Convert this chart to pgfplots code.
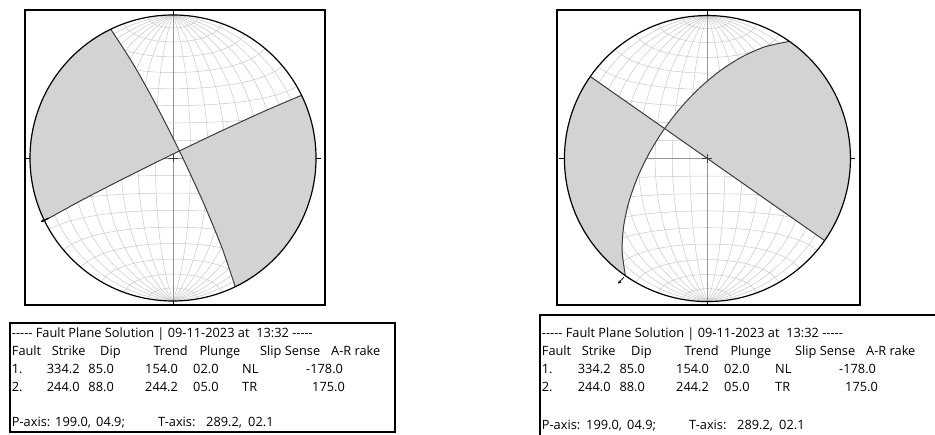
\documentclass[border=0pt]{standalone}
\usepackage{pgfplots}
\pgfplotsset{compat=1.18}
\usetikzlibrary{arrows.meta}
\usepackage{fontspec}
\setmainfont{Open Sans}
\definecolor{fillg}{RGB}{211,211,211}
\definecolor{gridg}{RGB}{200,200,200}
\definecolor{centg}{RGB}{150,150,150}
\definecolor{planec}{RGB}{60,60,60}
\newcommand\dashes{-{}-{}-{}-{}-}
\newcommand\T[3]{\node[anchor=base west,inner sep=0pt] at (#1,#2) {#3};}
\pgfplotsset{
  netaxis/.style={
    x=143bp, y=143bp, anchor=south west,
    axis lines=box, xtick=\empty, ytick=\empty,
    axis line style={line width=1.6bp, black},
    no markers, clip=true
  }
}
\newcommand\netgrid{%
  \pgfplotsinvokeforeach{-80,-70,...,80}{%
    \addplot[gridg, line width=0.5bp, domain=-90:90, samples=37, variable=\t, smooth]
      ({cos(\t)*sin(##1)/sqrt(1+cos(\t)*cos(##1))}, {sin(\t)/sqrt(1+cos(\t)*cos(##1))});
    \addplot[gridg, line width=0.5bp, domain=-90:90, samples=37, variable=\t, smooth]
      ({cos(##1)*sin(\t)/sqrt(1+cos(##1)*cos(\t))}, {sin(##1)/sqrt(1+cos(##1)*cos(\t))});
  }%
  \addplot[centg, line width=0.6bp] coordinates {(0,-1) (0,1)};
  \addplot[centg, line width=0.6bp] coordinates {(-1,0) (1,0)};
  \addplot[black, line width=0.7bp] coordinates {(0,1) (0,1.05)};
  \addplot[black, line width=0.7bp] coordinates {(0,-1) (0,-1.05)};
  \addplot[black, line width=0.7bp] coordinates {(-1,0) (-1.035,0)};
  \addplot[black, line width=0.7bp] coordinates {(1,0) (1.035,0)};
}
\newcommand\netfinish{%
  \addplot[black!75, line width=0.7bp] coordinates {(-0.035,0) (0.035,0)};
  \addplot[black!75, line width=0.7bp] coordinates {(0,-0.03) (0,0.03)};
  \draw[black, line width=1.2bp] (axis cs:0,0) circle[radius=143bp];
}
\begin{document}
\begin{tikzpicture}[x=1bp,y=1bp,every node/.style={font=\fontsize{12.8bp}{14bp}\selectfont}]
\useasboundingbox (0,0) rectangle (935,435);
% ---------------- left net ----------------
\begin{axis}[netaxis, at={(25bp,130bp)}, xmin=-1.035, xmax=1.063, ymin=-1.028, ymax=1.035]
\netgrid
\addplot[fill=fillg, draw=none] coordinates {(0.0447,0.0492) (-0.0108,0.0222) (-0.3388,-0.1406) (-0.6419,-0.2972) (-0.8988,-0.4384) (-0.9397,-0.3420) (-0.9848,-0.1736) (-1,0) (-0.9848,0.1736) (-0.9397,0.3420) (-0.8660,0.5) (-0.7660,0.6428) (-0.6428,0.7660) (-0.5,0.8660) (-0.4352,0.9003) (-0.2759,0.6525) (-0.1096,0.3539)};
\addplot[fill=fillg, draw=none] coordinates {(0.0447,0.0492) (0.0555,0.0268) (0.2093,-0.3058) (0.3400,-0.6215) (0.4352,-0.9003) (0.5,-0.8660) (0.6428,-0.7660) (0.7660,-0.6428) (0.8660,-0.5) (0.9397,-0.3420) (0.9848,-0.1736) (1,0) (0.9848,0.1736) (0.9397,0.3420) (0.8988,0.4384) (0.6293,0.3229) (0.3193,0.1804)};
\addplot[planec, line width=1bp, smooth] coordinates {(-0.4352,0.9003) (-0.2759,0.6525) (-0.1096,0.3539) (0.0555,0.0268) (0.2093,-0.3058) (0.3400,-0.6215) (0.4352,-0.9003)};
\addplot[planec, line width=1bp, smooth] coordinates {(-0.8988,-0.4384) (-0.6419,-0.2972) (-0.3388,-0.1406) (-0.0108,0.0222) (0.3193,0.1804) (0.6293,0.3229) (0.8988,0.4384)};
\addplot[black, line width=1.2bp, -{Stealth[length=3bp,width=3bp]}] coordinates {(-0.87,-0.42) (-0.925,-0.447)};
\netfinish
\end{axis}
% ---------------- right net ----------------
\begin{axis}[netaxis, at={(557bp,130bp)}, xmin=-1.052, xmax=1.066, ymin=-1.024, ymax=1.038]
\netgrid
\addplot[fill=fillg, draw=none] coordinates {(-0.2999,0.2100) (-0.1824,0.3608) (-0.0513,0.4974) (0.0913,0.6159) (0.2438,0.7124) (0.4049,0.7823) (0.5736,0.8192) (0.6428,0.7660) (0.7660,0.6428) (0.8660,0.5) (0.9397,0.3420) (0.9848,0.1736) (1,0) (0.9848,-0.1736) (0.9397,-0.3420) (0.8660,-0.5) (0.8192,-0.5736)};
\addplot[fill=fillg, draw=none] coordinates {(-0.2999,0.2100) (-0.8192,0.5736) (-0.8660,0.5) (-0.9397,0.3420) (-0.9848,0.1736) (-1,0) (-0.9848,-0.1736) (-0.9397,-0.3420) (-0.8660,-0.5) (-0.7660,-0.6428) (-0.6428,-0.7660) (-0.5736,-0.8192) (-0.5965,-0.6481) (-0.5860,-0.4728) (-0.5475,-0.2965) (-0.4849,-0.1219) (-0.4014,0.0480)};
\addplot[planec, line width=1bp] coordinates {(-0.8192,0.5736) (0.8192,-0.5736)};
\addplot[planec, line width=1bp, smooth] coordinates {(0.5736,0.8192) (0.4049,0.7823) (0.2438,0.7124) (0.0913,0.6159) (-0.0513,0.4974) (-0.1824,0.3608) (-0.2999,0.2100) (-0.4014,0.0480) (-0.4849,-0.1219) (-0.5475,-0.2965) (-0.5860,-0.4728) (-0.5965,-0.6481) (-0.5736,-0.8192)};
\addplot[black, line width=0.8bp, -{Stealth[length=3.5bp,width=3.5bp]}] coordinates {(-0.585,-0.83) (-0.625,-0.875)};
\netfinish
\end{axis}
% ---------------- left text box ----------------
\draw[line width=1.5bp] (10,112) rectangle (395,3);
\T{11.7}{97}{\dashes\ Fault Plane Solution | 09-11-2023 at~~13:32 \dashes}
\T{11.7}{79}{Fault}\T{51.7}{79}{Strike}\T{100}{79}{Dip}\T{153.3}{79}{Trend}\T{199.3}{79}{Plunge}\T{260}{79}{Slip Sense}\T{331}{79}{A-R rake}
\T{11.7}{61.5}{1.}\T{46.7}{61.5}{334.2}\T{88.3}{61.5}{85.0}\T{145}{61.5}{154.0}\T{193}{61.5}{02.0}\T{242}{61.5}{NL}\T{306}{61.5}{-178.0}
\T{11.7}{43.3}{2.}\T{46.7}{43.3}{244.0}\T{88.3}{43.3}{88.0}\T{145}{43.3}{244.2}\T{193}{43.3}{05.0}\T{242}{43.3}{TR}\T{312}{43.3}{175.0}
\T{11.7}{8}{P-axis:}\T{55}{8}{199.0,}\T{96}{8}{04.9;}\T{158}{8}{T-axis:}\T{206}{8}{289.2,}\T{248}{8}{02.1}
% ---------------- right text box ----------------
\draw[line width=1.5bp] (540,-2) -- (540,120) -- (937,120);
\T{541.7}{97}{\dashes\ Fault Plane Solution | 09-11-2023 at~~13:32 \dashes}
\T{541.7}{79}{Fault}\T{581.7}{79}{Strike}\T{631}{79}{Dip}\T{684.3}{79}{Trend}\T{730.3}{79}{Plunge}\T{795}{79}{Slip Sense}\T{866}{79}{A-R rake}
\T{541.7}{61.5}{1.}\T{577.7}{61.5}{334.2}\T{619.3}{61.5}{85.0}\T{676}{61.5}{154.0}\T{724}{61.5}{02.0}\T{775}{61.5}{NL}\T{839}{61.5}{-178.0}
\T{541.7}{43.3}{2.}\T{577.7}{43.3}{244.0}\T{619.3}{43.3}{88.0}\T{676}{43.3}{244.2}\T{724}{43.3}{05.0}\T{775}{43.3}{TR}\T{845}{43.3}{175.0}
\T{541.7}{5.5}{P-axis:}\T{586}{5.5}{199.0,}\T{627}{5.5}{04.9;}\T{689}{5.5}{T-axis:}\T{737}{5.5}{289.2,}\T{779}{5.5}{02.1}
\end{tikzpicture}
\end{document}
